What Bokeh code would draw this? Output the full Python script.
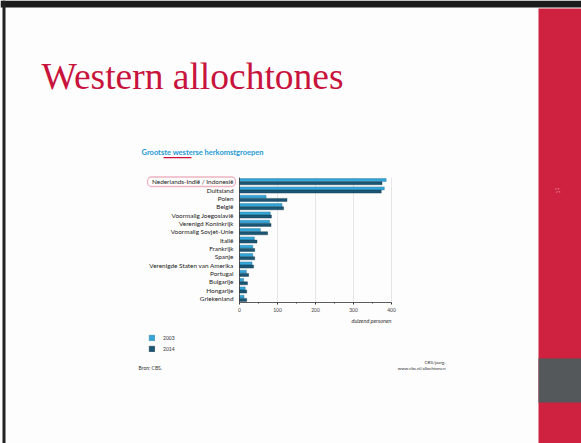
from bokeh.plotting import figure
from bokeh.models import (Range1d, ColumnDataSource, Label, BoxAnnotation,
                          Legend, LegendItem, FixedTicker)
from bokeh.transform import dodge
from bokeh.embed import file_html
from bokeh.resources import INLINE

# ---- data (values in thousands of persons) ----
categories = ["Nederlands-Indië / Indonesië", "Duitsland", "Polen", "België",
              "Voormalig Joegoslavië", "Verenigd Koninkrijk", "Voormalig Sovjet-Unie",
              "Italië", "Frankrijk", "Spanje", "Verenigde Staten van Amerika",
              "Portugal", "Bulgarije", "Hongarije", "Griekenland"]
values_2003 = [386, 381, 70, 112, 81, 79, 55, 39, 35, 35, 33, 18, 11, 15, 12]
values_2014 = [375, 373, 125, 116, 84, 83, 74, 46, 40, 40, 37, 24, 21, 19, 19]
series_labels = ["2003", "2014"]
x_ticks = [0, 100, 200, 300, 400]
x_minor_ticks = [50, 150, 250, 350]

LIGHT = "#35a6d8"
DARK = "#1b5674"
RED = "#c8143c"
BG = "#fdfdfd"

W, H = 581, 443
# chart plot area on the slide (pixels)
PX_L, PX_R, PX_T, PX_B = 239, 391, 177, 302
X_MAX = 400

n = len(categories)
y_pos = [n - i for i in range(n)]          # first category on top
src = ColumnDataSource(dict(y=y_pos, v2003=values_2003, v2014=values_2014))

kx = (PX_R - PX_L) / X_MAX
ky = (PX_B - PX_T) / n
x_start, x_end = -PX_L / kx, (W - PX_L) / kx
y_top = n + 0.5 + PX_T / ky
y_bot = n + 0.5 - (H - PX_T) / ky

p = figure(width=W, height=H, output_backend="svg", toolbar_location=None,
           x_range=Range1d(x_start, x_end), y_range=Range1d(y_bot, y_top),
           min_border=0, min_border_left=0, min_border_right=0,
           min_border_top=0, min_border_bottom=0)
p.extra_x_ranges = {"px": Range1d(0, W)}
p.extra_y_ranges = {"px": Range1d(H, 0)}

p.background_fill_color = BG
p.border_fill_color = BG
p.outline_line_color = None
p.xgrid.visible = False
p.ygrid.visible = False

# ---- slide decorations (pixel coordinates) ----
p.quad(left=[0, 2, 538, 538, 163], right=[W, 5, W, W, 191],
       top=[0, 0, 8, 358, 156.4], bottom=[7, H, H, 402, 157.7],
       fill_color=["#1c1c1c", "#222222", "#cf2140", "#55585a", "#d0103a"],
       line_color=None, x_range_name="px", y_range_name="px")

# ---- chart ----
p.segment(x0=x_ticks[1:], x1=x_ticks[1:], y0=0.5, y1=n + 0.5,
          line_color="#e0e0e0", line_width=0.8)

r1 = p.hbar(y=dodge("y", 0.19), left=0, right="v2003", height=0.36,
            source=src, fill_color=LIGHT, line_color="#1f6f96", line_width=0.4)
r2 = p.hbar(y=dodge("y", -0.19), left=0, right="v2014", height=0.36,
            source=src, fill_color=DARK, line_color="#0f3448", line_width=0.4)

# axes fixed at the chart origin
xa = p.xaxis[0]
xa.fixed_location = 0.5
xa.bounds = (0, X_MAX)
xa.ticker = FixedTicker(ticks=x_ticks, minor_ticks=x_minor_ticks)
xa.axis_line_color = "#333333"
xa.axis_line_width = 0.8
xa.major_tick_out = 2
xa.major_tick_in = 0
xa.minor_tick_out = 1
xa.minor_tick_in = 0
xa.major_tick_line_color = "#333333"
xa.minor_tick_line_color = "#333333"
xa.major_label_text_font = "Lato"
xa.major_label_text_font_size = "5px"
xa.major_label_text_color = "#444444"
xa.major_label_standoff = 3

ya = p.yaxis[0]
ya.fixed_location = 0
ya.bounds = (0.5, n + 0.5)
ya.ticker = FixedTicker(ticks=y_pos, minor_ticks=[])
ya.major_label_overrides = {yy: c for yy, c in zip(y_pos, categories)}
ya.axis_line_color = "#333333"
ya.axis_line_width = 0.8
ya.major_tick_out = 0
ya.major_tick_in = 0
ya.minor_tick_out = 0
ya.minor_tick_in = 0
ya.major_tick_line_color = None
ya.minor_tick_line_color = None
ya.major_label_standoff = 6
ya.major_label_text_font = "Lato"
ya.major_label_text_font_size = "6.4px"
ya.major_label_text_color = "#1a1a1a"

# legend
legend = Legend(items=[LegendItem(label=series_labels[0], renderers=[r1]),
                       LegendItem(label=series_labels[1], renderers=[r2])],
                location=(148, H - 352), glyph_width=7, glyph_height=7, spacing=4,
                padding=0, margin=0, label_standoff=8, label_height=7,
                label_text_font="Lato", label_text_font_size="5px",
                label_text_color="#333333", background_fill_alpha=0,
                border_line_color=None)
p.add_layout(legend)

# highlight around first label
p.add_layout(BoxAnnotation(left=147, right=235, top=176.5, bottom=186,
                           x_range_name="px", y_range_name="px",
                           fill_alpha=0, line_color="#d0103a", line_width=1.3,
                           border_radius=4))

def label(x, y, text, **kw):
    p.add_layout(Label(x=x, y=y, text=text, x_range_name="px", y_range_name="px", **kw))

label(41, 76, "Western allochtones", text_font="Liberation Serif", text_font_size="37.5px",
      text_color=RED, text_baseline="alphabetic")
label(141, 152, "Grootste westerse herkomstgroepen", text_font="Lato",
      text_font_style="bold", text_font_size="7.5px", text_color="#1f9ad4",
      text_baseline="middle")
label(391, 320, "duizend personen", text_font="Lato", text_font_style="italic",
      text_font_size="5.5px", text_color="#333333", text_align="right",
      text_baseline="middle")
label(138, 367, "Bron: CBS.", text_font="Lato", text_font_size="5px",
      text_color="#333333", text_baseline="middle")
label(445, 362, "CBS/jaarg.", text_font="Lato", text_font_size="4.5px",
      text_color="#333333", text_align="right", text_baseline="middle")
label(445, 368, "www.cbs.nl/allochtonen", text_font="Lato", text_font_size="4.5px",
      text_color="#333333", text_align="right", text_baseline="middle")
label(557, 190, "11", text_font="Lato", text_font_size="5px", text_color="#f4a0a8",
      angle=1.5708, text_align="center", text_baseline="middle")

open("out.html", "w").write(file_html(p, INLINE))
